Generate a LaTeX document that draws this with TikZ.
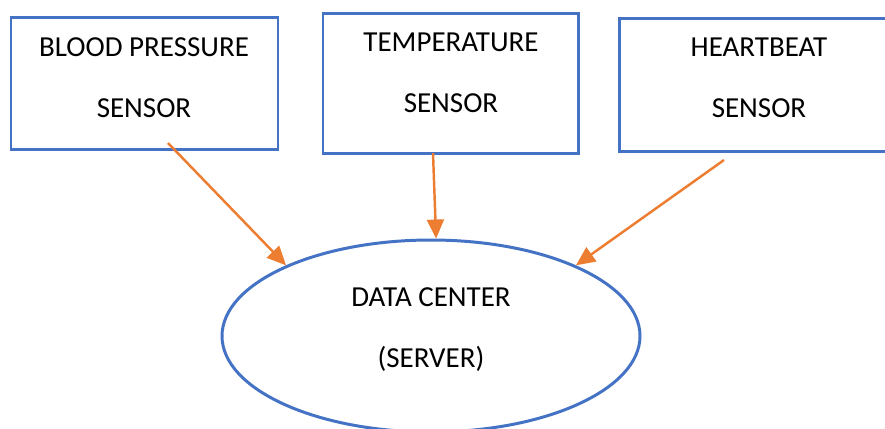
\documentclass[tikz,border=0pt]{standalone}
\usepackage{fontspec}
\setmainfont{Carlito}
\usepackage{tikz}
\usetikzlibrary{arrows.meta,shapes.geometric}
\definecolor{boxblue}{HTML}{4472C4}
\definecolor{linkorange}{HTML}{ED7D31}
\tikzset{
  sensor/.style={draw=boxblue, line width=1.7pt, rectangle, inner sep=0pt},
  hub/.style={draw=boxblue, line width=1.7pt, ellipse, inner sep=0pt},
  caption/.style={align=center, anchor=base, inner sep=0pt, font=\fontsize{16.5}{34.7}\selectfont},
  link/.style={draw=linkorange, line width=1.4pt, -{Triangle[length=0.38cm,width=0.34cm]}}
}

\begin{document}
\begin{tikzpicture}
\useasboundingbox (0cm,0cm) rectangle (17.7cm,-8.56cm);
\clip (0cm,0cm) rectangle (17.7cm,-8.56cm);
% sensors
\node[sensor, minimum width=5.34cm, minimum height=2.64cm] (bp) at (2.89cm,-1.66cm) {};
\node[sensor, minimum width=5.10cm, minimum height=2.80cm] (tp) at (9.01cm,-1.66cm) {};
\node[sensor, minimum width=5.60cm, minimum height=2.66cm] (hb) at (15.18cm,-1.69cm) {};
\node[caption] (bp text) at (2.88cm,-2.34cm) {BLOOD PRESSURE\\SENSOR};
\node[caption] (tp text) at (9.02cm,-2.24cm) {TEMPERATURE\\SENSOR};
\node[caption] (hb text) at (15.18cm,-2.34cm) {HEARTBEAT\\SENSOR};
% server
\node[hub, minimum width=8.36cm, minimum height=3.84cm] (dc) at (8.62cm,-6.72cm) {};
\node[caption] (dc text) at (8.62cm,-7.34cm) {DATA CENTER\\(SERVER)};
% links
\coordinate (bp tail) at (3.36cm,-2.86cm);
\coordinate (tp tail) at (8.66cm,-3.06cm);
\coordinate (hb tail) at (14.48cm,-3.20cm);
\draw[link] (bp tail) -- (dc.154);
\draw[link] (tp tail) -- (dc.87);
\draw[link] (hb tail) -- (dc.26);
\end{tikzpicture}
\end{document}
